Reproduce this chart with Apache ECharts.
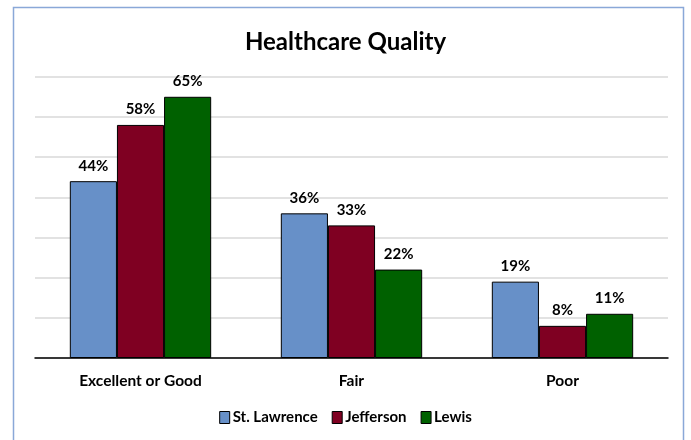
<!DOCTYPE html>
<html>
<head>
<meta charset="utf-8">
<script src="https://cdn.jsdelivr.net/npm/echarts@6/dist/echarts.min.js"></script>
<style>
  html, body { margin: 0; padding: 0; background: #fff; }
  #main { width: 691px; height: 440px; }
</style>
</head>
<body>
<div id="main"></div>
<script>
var categories = ['Excellent or Good', 'Fair', 'Poor'];
var stLawrence = [44, 36, 19];
var jefferson = [58, 33, 8];
var lewis = [65, 22, 11];

var font = 'Lato, "Open Sans", sans-serif';
var chart = echarts.init(document.getElementById('main'));

function bar(name, data, color) {
  return {
    name: name,
    type: 'bar',
    data: data,
    barGap: '0%',
    barCategoryGap: '33%',
    itemStyle: { color: color, borderColor: '#000', borderWidth: 1 },
    label: {
      show: true,
      position: 'top',
      distance: 8,
      formatter: '{c}%',
      color: '#000',
      fontWeight: 'bold',
      fontSize: 15,
      fontFamily: font
    }
  };
}

var option = {
  animation: false,
  backgroundColor: '#fff',
  title: {
    text: 'Healthcare Quality',
    left: 'center',
    top: 25,
    textStyle: { fontSize: 24, fontWeight: 'bold', color: '#000', fontFamily: font }
  },
  graphic: [{
    type: 'rect',
    shape: { x: 13.5, y: 7.5, width: 670, height: 450 },
    style: { fill: null, stroke: '#8aa8d8', lineWidth: 1.5 },
    z: -1
  }],
  legend: {
    bottom: 10,
    left: 'center',
    itemWidth: 10,
    itemHeight: 12,
    itemGap: 14,
    icon: 'rect',
    textStyle: { fontSize: 15, fontWeight: 'bold', color: '#000', fontFamily: font, padding: [0, 0, 0, -2] },
    itemStyle: { borderColor: '#000', borderWidth: 1 }
  },
  grid: { left: 35, right: 23, top: 76.7, bottom: 82 },
  xAxis: {
    type: 'category',
    data: categories,
    axisTick: { show: false },
    axisLine: { lineStyle: { color: '#000', width: 1.5 } },
    axisLabel: { margin: 15, fontSize: 15.5, fontWeight: 'bold', color: '#000', fontFamily: font }
  },
  yAxis: {
    type: 'value',
    min: 0,
    max: 70,
    interval: 10,
    axisLabel: { show: false },
    axisLine: { show: false },
    axisTick: { show: false },
    splitLine: { lineStyle: { color: '#d9d9d9', width: 1.5 } }
  },
  series: [
    bar('St. Lawrence', stLawrence, '#6790c8'),
    bar('Jefferson', jefferson, '#7f0022'),
    bar('Lewis', lewis, '#006100')
  ]
};
chart.setOption(option);
</script>
</body>
</html>
